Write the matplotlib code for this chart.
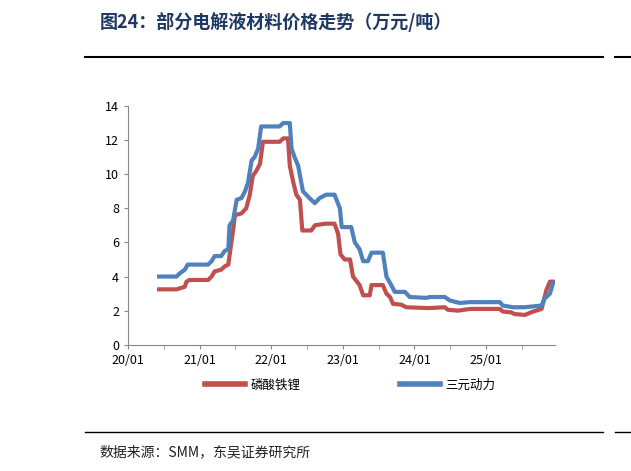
import matplotlib
matplotlib.use("Agg")
import matplotlib.pyplot as plt
from matplotlib.lines import Line2D

plt.rcParams['font.family'] = ['Noto Sans CJK SC', 'DejaVu Sans']

# months since 2020-01
lfp_x = [5.2, 8.1, 9.5, 9.8, 10.3, 13.4, 14.0, 14.5, 15.6, 16.2, 16.8, 17.3, 17.6, 17.9, 19.0,
         19.8, 20.4, 20.9, 21.5, 22.1, 22.6, 25.4, 26.0, 26.8, 27.1, 27.7, 28.2, 28.8, 29.2,
         30.7, 31.3, 33.0, 34.6, 35.2, 35.6, 36.3, 37.2, 37.7, 38.8, 39.4, 40.5, 40.8, 42.7,
         43.3, 43.9, 44.4, 45.8, 46.6, 50.3, 53.1, 53.6, 55.3, 57.3, 62.3, 62.8, 64.2, 64.8,
         66.5, 67.9, 69.3, 70.1, 70.7, 71.5]
lfp_y = [3.25, 3.25, 3.4, 3.7, 3.8, 3.8, 4.0, 4.3, 4.4, 4.6, 4.7, 6.0, 6.7, 7.6, 7.7,
         8.0, 8.8, 9.9, 10.2, 10.6, 11.9, 11.9, 12.1, 12.1, 10.5, 9.5, 8.8, 8.5, 6.7,
         6.7, 7.0, 7.1, 7.1, 6.5, 5.3, 5.0, 5.0, 4.0, 3.5, 2.9, 2.9, 3.5, 3.5,
         3.0, 2.8, 2.4, 2.35, 2.2, 2.15, 2.2, 2.05, 2.0, 2.1, 2.1, 1.95, 1.9, 1.8,
         1.75, 1.95, 2.1, 3.2, 3.7, 3.7]

ncm_x = [5.2, 8.1, 8.7, 9.5, 10.0, 13.4, 14.0, 14.5, 15.6, 16.2, 16.8, 17.0, 17.6, 18.2, 19.0,
         19.6, 20.1, 20.7, 21.2, 21.8, 22.3, 25.4, 26.0, 27.1, 27.4, 27.9, 28.5, 29.3, 30.4,
         31.3, 32.1, 33.2, 34.6, 35.5, 35.8, 37.4, 38.0, 38.8, 39.4, 40.2, 40.8, 42.7, 43.3,
         44.1, 44.7, 46.4, 47.2, 50.0, 50.6, 53.1, 53.9, 55.0, 55.6, 57.3, 62.3, 62.8, 64.5,
         66.5, 67.9, 69.3, 69.8, 70.7, 71.2, 71.7]
ncm_y = [4.0, 4.0, 4.2, 4.4, 4.7, 4.7, 4.9, 5.2, 5.2, 5.5, 5.6, 7.0, 7.3, 8.5, 8.6,
         9.0, 9.5, 10.8, 11.0, 11.5, 12.8, 12.8, 13.0, 13.0, 11.5, 11.0, 10.5, 9.0, 8.6,
         8.3, 8.6, 8.8, 8.8, 8.0, 6.9, 6.9, 6.0, 5.6, 4.9, 4.9, 5.4, 5.4, 4.0,
         3.5, 3.1, 3.1, 2.8, 2.75, 2.8, 2.8, 2.6, 2.5, 2.45, 2.5, 2.5, 2.3, 2.2,
         2.2, 2.25, 2.3, 2.7, 3.0, 3.6, 3.7]

year_labels = ["20/01", "21/01", "22/01", "23/01", "24/01", "25/01"]

red = "#C0504D"
blue = "#4F81BD"

fig = plt.figure(figsize=(6.31, 4.71), dpi=100)
ax = fig.add_axes([0.203, 0.268, 0.677, 0.507])
ax.plot(lfp_x, lfp_y, color=red, lw=3, solid_joinstyle="round")
ax.plot(ncm_x, ncm_y, color=blue, lw=3, solid_joinstyle="round")

ax.set_xlim(0, 71.6)
ax.set_ylim(0, 14)
ax.set_yticks(range(0, 15, 2))
ax.set_xticks([12 * i for i in range(6)])
ax.set_xticklabels(year_labels)
ax.set_xticks([6 + 12 * i for i in range(6)], minor=True)
for s in ["top", "right"]:
    ax.spines[s].set_visible(False)
for s in ["left", "bottom"]:
    ax.spines[s].set_color("#888888")
ax.tick_params(axis="both", labelsize=9, color="#888888", length=3)
ax.tick_params(axis="x", which="minor", color="#888888", length=3)
ax.tick_params(axis="y", length=3)

handles = [Line2D([], [], color=red, lw=4), Line2D([], [], color=blue, lw=4)]
fig.legend(handles, ["磷酸铁锂", "三元动力"], loc="center", bbox_to_anchor=(0.555, 0.182),
           ncol=2, frameon=False, fontsize=9, handlelength=3.2, columnspacing=8, handletextpad=0.4)

fig.text(0.158, 0.953, "图24：部分电解液材料价格走势（万元/吨）", fontsize=13, fontweight="bold",
         color="#1F3864", va="center")
fig.add_artist(Line2D([0.135, 0.955], [0.878, 0.878], color="black", lw=1.5))
fig.add_artist(Line2D([0.975, 1.0], [0.878, 0.878], color="black", lw=1.5))
fig.add_artist(Line2D([0.135, 0.955], [0.083, 0.083], color="black", lw=1.0))
fig.add_artist(Line2D([0.975, 1.0], [0.083, 0.083], color="black", lw=1.0))
fig.text(0.158, 0.04, "数据来源：SMM，东吴证券研究所", fontsize=10, color="#222222", va="center")

fig.savefig("out.png", dpi=100)
